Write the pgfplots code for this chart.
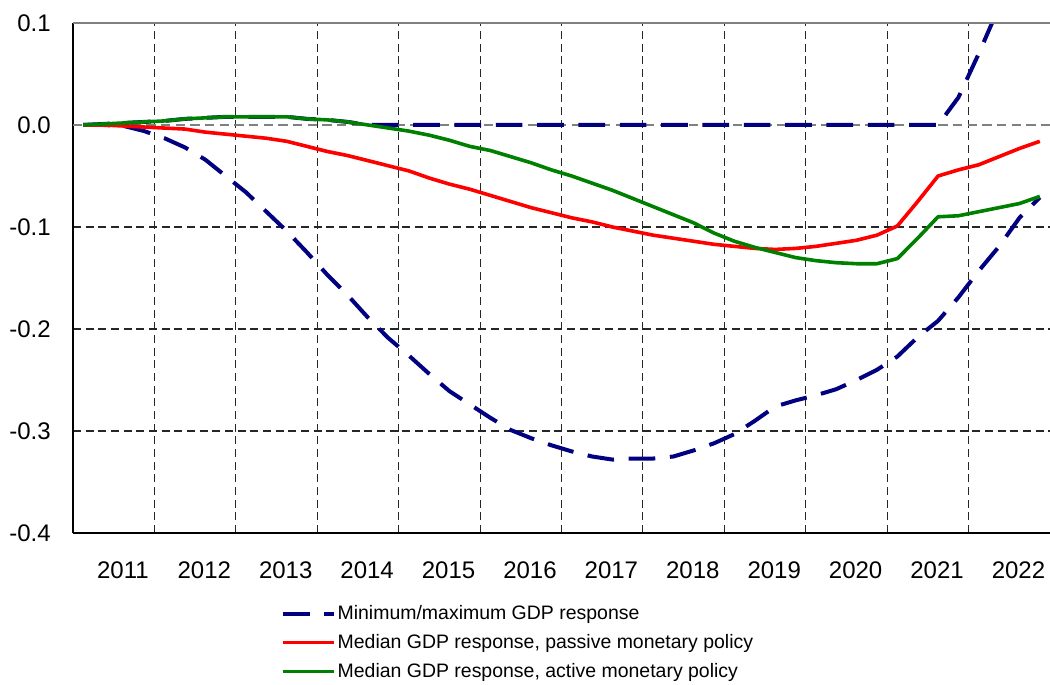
\documentclass[border=0pt]{standalone}
\usepackage{fontspec}
\setmainfont{Liberation Sans}
\usepackage{pgfplots}
\pgfplotsset{compat=1.18}

\definecolor{navyline}{RGB}{0,0,128}
\definecolor{redline}{RGB}{255,0,0}
\definecolor{greenline}{RGB}{0,128,0}
\definecolor{zeroline}{RGB}{128,128,128}

\begin{document}
\begin{tikzpicture}
\begin{axis}[
  scale only axis,
  width=732.75pt,
  height=382.5pt,
  xmin=0, xmax=48,
  ymin=-0.4, ymax=0.1,
  axis x line*=bottom,
  axis y line*=left,
  axis line style={black, line width=1.2pt, -},
  xtick={2.45,6.45,10.45,14.45,18.45,22.45,26.45,30.45,34.45,38.45,42.45,46.45},
  xticklabels={2011,2012,2013,2014,2015,2016,2017,2018,2019,2020,2021,2022},
  ytick={-0.4,-0.3,-0.2,-0.1,0,0.1},
  yticklabels={-0.4,-0.3,-0.2,-0.1,0.0,0.1},
  minor xtick={4,8,12,16,20,24,28,32,36,40,44},
  minor ytick={-0.3,-0.2,-0.1},
  xminorgrids, yminorgrids,
  minor grid style={black!85, line width=0.8pt, dash pattern=on 6pt off 3.5pt},
  extra y ticks={0},
  extra y tick labels={},
  extra y tick style={grid=major, major grid style={zeroline, line width=1.6pt, dash pattern=on 7pt off 4pt}},
  major tick length=0pt,
  minor tick length=0pt,
  xticklabel style={font=\fontsize{18}{21}\selectfont, inner sep=0pt, anchor=north, yshift=-21.5pt},
  yticklabel style={font=\fontsize{18}{21}\selectfont, inner sep=0pt, anchor=east, xshift=-16.5pt},
  legend style={at={(0.2085,-0.134)}, anchor=north west, draw=none, fill=none,
    font=\fontsize{14.6}{17}\selectfont, row sep=7.6pt, nodes={inner sep=1pt}},
  legend cell align=left,
  legend image code/.code={\draw[#1] (0pt,0pt) -- (38.5pt,0pt);},
]
% minimum
\addplot[navyline, line width=3pt, dash pattern=on 20pt off 11pt] coordinates {
  (0.5,0) (1.5,0) (2.5,-0.001) (3.5,-0.006) (4.5,-0.013) (5.5,-0.022)
  (6.5,-0.034) (7.5,-0.050) (8.5,-0.066) (9.5,-0.085) (10.5,-0.104) (11.5,-0.125)
  (12.5,-0.147) (13.5,-0.167) (14.5,-0.189) (15.5,-0.209) (16.5,-0.226) (17.5,-0.244)
  (18.5,-0.261) (19.5,-0.274) (20.5,-0.287) (21.5,-0.299) (22.5,-0.307) (23.5,-0.314)
  (24.5,-0.320) (25.5,-0.325) (26.5,-0.328) (27.5,-0.327) (28.5,-0.327) (29.5,-0.325)
  (30.5,-0.319) (31.5,-0.312) (32.5,-0.303) (33.5,-0.290) (34.5,-0.276) (35.5,-0.270)
  (36.5,-0.265) (37.5,-0.259) (38.5,-0.250) (39.5,-0.240) (40.5,-0.227) (41.5,-0.208)
  (42.5,-0.192) (43.5,-0.169) (44.5,-0.143) (45.5,-0.119) (46.5,-0.091) (47.5,-0.071)
};
\addlegendentry{Minimum/maximum GDP response}
% maximum
\addplot[navyline, line width=3pt, dash pattern=on 20pt off 11pt, forget plot] coordinates {
  (0.5,0) (1.5,0.001) (2.5,0.002) (3.5,0.003) (4.5,0.004) (5.5,0.006)
  (6.5,0.007) (7.5,0.008) (8.5,0.008) (9.5,0.008) (10.5,0.008) (11.5,0.006)
  (12.5,0.005) (13.5,0.003) (14.5,0) (15.5,0) (16.5,0) (17.5,0)
  (18.5,0) (19.5,0) (20.5,0) (21.5,0) (22.5,0) (23.5,0)
  (24.5,0) (25.5,0) (26.5,0) (27.5,0) (28.5,0) (29.5,0)
  (30.5,0) (31.5,0) (32.5,0) (33.5,0) (34.5,0) (35.5,0)
  (36.5,0) (37.5,0) (38.5,0) (39.5,0) (40.5,0) (41.5,0)
  (42.5,0) (43.5,0.027) (44.5,0.070) (45.5,0.116) (46.5,0.160) (47.5,0.205)
};
% passive
\addplot[redline, line width=2.7pt, line join=round] coordinates {
  (0.5,0) (1.5,0) (2.5,-0.001) (3.5,-0.002) (4.5,-0.003) (5.5,-0.004)
  (6.5,-0.007) (7.5,-0.009) (8.5,-0.011) (9.5,-0.013) (10.5,-0.016) (11.5,-0.021)
  (12.5,-0.026) (13.5,-0.030) (14.5,-0.035) (15.5,-0.040) (16.5,-0.045) (17.5,-0.052)
  (18.5,-0.058) (19.5,-0.063) (20.5,-0.069) (21.5,-0.075) (22.5,-0.081) (23.5,-0.086)
  (24.5,-0.091) (25.5,-0.095) (26.5,-0.100) (27.5,-0.104) (28.5,-0.108) (29.5,-0.111)
  (30.5,-0.114) (31.5,-0.117) (32.5,-0.119) (33.5,-0.121) (34.5,-0.122) (35.5,-0.121)
  (36.5,-0.119) (37.5,-0.116) (38.5,-0.113) (39.5,-0.108) (40.5,-0.099) (41.5,-0.075)
  (42.5,-0.050) (43.5,-0.044) (44.5,-0.039) (45.5,-0.031) (46.5,-0.023) (47.5,-0.016)
};
\addlegendentry{Median GDP response, passive monetary policy}
% active
\addplot[greenline, line width=2.7pt, line join=round] coordinates {
  (0.5,0) (1.5,0.001) (2.5,0.002) (3.5,0.003) (4.5,0.004) (5.5,0.006)
  (6.5,0.007) (7.5,0.008) (8.5,0.008) (9.5,0.008) (10.5,0.008) (11.5,0.006)
  (12.5,0.005) (13.5,0.003) (14.5,0.000) (15.5,-0.003) (16.5,-0.006) (17.5,-0.010)
  (18.5,-0.015) (19.5,-0.021) (20.5,-0.025) (21.5,-0.031) (22.5,-0.037) (23.5,-0.044)
  (24.5,-0.050) (25.5,-0.057) (26.5,-0.064) (27.5,-0.072) (28.5,-0.080) (29.5,-0.088)
  (30.5,-0.096) (31.5,-0.106) (32.5,-0.114) (33.5,-0.120) (34.5,-0.125) (35.5,-0.130)
  (36.5,-0.133) (37.5,-0.135) (38.5,-0.136) (39.5,-0.136) (40.5,-0.131) (41.5,-0.111)
  (42.5,-0.090) (43.5,-0.089) (44.5,-0.085) (45.5,-0.081) (46.5,-0.077) (47.5,-0.070)
};
\addlegendentry{Median GDP response, active monetary policy}
\end{axis}
\draw[zeroline, line width=1.5pt] (current axis.north west) -- (current axis.north east);
\pgfresetboundingbox
\path[use as bounding box] ([xshift=-54.75pt,yshift=-113.25pt]current axis.south west)
  rectangle ([yshift=17.25pt]current axis.north east);
\end{tikzpicture}
\end{document}
